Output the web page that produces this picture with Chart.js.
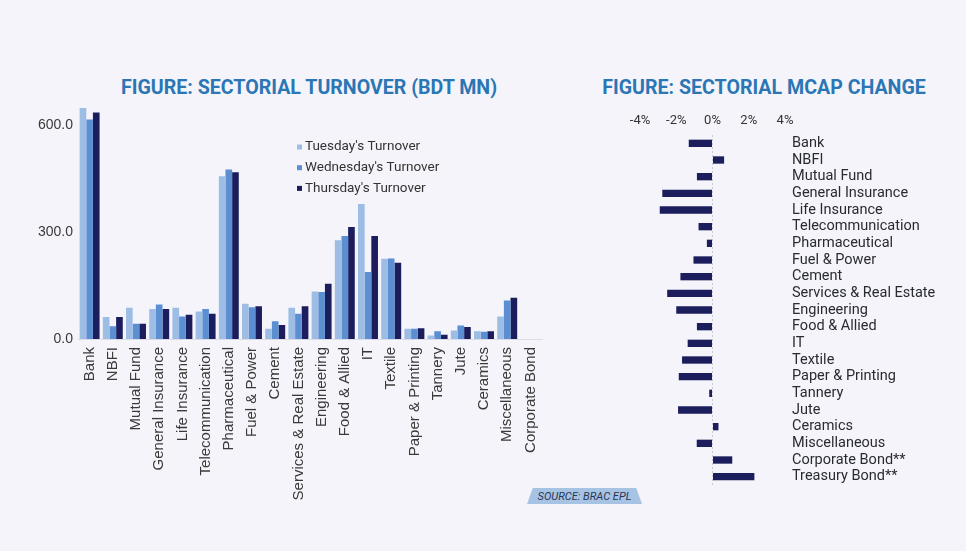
<!DOCTYPE html>
<html>
<head>
<meta charset="utf-8">
<script src="https://cdn.jsdelivr.net/npm/chart.js@4.4.1/dist/chart.umd.min.js"></script>
<style>
	html, body { margin: 0; padding: 0; background: #f4f4fa; }
	body { width: 966px; height: 551px; position: relative; overflow: hidden; }
	.title {
		position: absolute; top: 76px; font-family: Roboto, sans-serif; font-weight: 700;
		font-size: 19.6px; color: #2b76b4; white-space: nowrap; transform: translateX(-50%);
	}
	.box { position: absolute; }
	.source {
		position: absolute; left: 527px; top: 488px; width: 115px; height: 16px;
		background: #a7c3e4; clip-path: polygon(5% 0, 95% 0, 100% 100%, 0 100%);
		font-family: Roboto, sans-serif; font-style: italic; font-size: 11px; color: #2a3656;
		text-align: center; line-height: 17px;
	}
</style>
</head>
<body>
<div class="title" style="left:309px">FIGURE: SECTORIAL TURNOVER (BDT MN)</div>
<div class="title" style="left:764px">FIGURE: SECTORIAL MCAP CHANGE</div>
<div class="box" style="left:0;top:94px;width:560px;height:406px"><canvas id="turnover"></canvas></div>
<div class="box" style="left:600px;top:101px;width:366px;height:400px"><canvas id="mcap"></canvas></div>
<div class="source">SOURCE: BRAC EPL</div>
<script>
// turnover data (BDT mn)
const sectors = ['Bank', 'NBFI', 'Mutual Fund', 'General Insurance', 'Life Insurance',
	'Telecommunication', 'Pharmaceutical', 'Fuel & Power', 'Cement', 'Services & Real Estate',
	'Engineering', 'Food & Allied', 'IT', 'Textile', 'Paper & Printing', 'Tannery', 'Jute',
	'Ceramics', 'Miscellaneous', 'Corporate Bond']
const tuesday = [648, 62, 88, 84, 88, 77, 457, 99, 29, 88, 133, 277, 379, 225, 29, 10, 24, 22, 63, 0]
const wednesday = [616, 36, 43, 97, 63, 84, 476, 89, 50, 71, 132, 289, 188, 226, 29, 22, 38, 20, 108, 0]
const thursday = [636, 62, 43, 84, 68, 71, 468, 92, 39, 92, 155, 314, 289, 214, 30, 12, 34, 22, 116, 0]
const turnoverTicks = [0, 300, 600]

// mcap change (%)
const mcapSectors = ['Bank', 'NBFI', 'Mutual Fund', 'General Insurance', 'Life Insurance',
	'Telecommunication', 'Pharmaceutical', 'Fuel & Power', 'Cement', 'Services & Real Estate',
	'Engineering', 'Food & Allied', 'IT', 'Textile', 'Paper & Printing', 'Tannery', 'Jute',
	'Ceramics', 'Miscellaneous', 'Corporate Bond**', 'Treasury Bond**']
const mcapChange = [-1.31, 0.64, -0.86, -2.77, -2.91, -0.77, -0.31, -1.05, -1.77, -2.5,
	-2.0, -0.86, -1.37, -1.68, -1.86, -0.18, -1.9, 0.33, -0.87, 1.09, 2.31]
const mcapTicks = [-4, -2, 0, 2, 4]

Chart.defaults.animation = false
Chart.defaults.responsive = true
Chart.defaults.maintainAspectRatio = false

// legend drawn inside the plot, top right
const insideLegend = {
	id: 'insideLegend',
	afterDraw(chart) {
		const ctx = chart.ctx
		ctx.save()
		ctx.font = '13.5px Roboto'
		ctx.textBaseline = 'middle'
		chart.data.datasets.forEach((ds, i) => {
			const y = 53 + i * 20.7
			ctx.fillStyle = ds.backgroundColor
			ctx.fillRect(297, y - 2.5, 5, 5)
			ctx.fillStyle = '#333'
			ctx.fillText(ds.label, 305, y)
		})
		ctx.restore()
	},
}

new Chart(document.getElementById('turnover'), {
	type: 'bar',
	data: {
		labels: sectors,
		datasets: [
			{ label: "Tuesday's Turnover", data: tuesday, backgroundColor: '#9dbde4' },
			{ label: "Wednesday's Turnover", data: wednesday, backgroundColor: '#5b8fd2' },
			{ label: "Thursday's Turnover", data: thursday, backgroundColor: '#1c1d5c' },
		],
	},
	options: {
		layout: { padding: { top: 0, right: 18, left: 0, bottom: 0 } },
		datasets: { bar: { categoryPercentage: 0.86, barPercentage: 1 } },
		plugins: { legend: { display: false }, tooltip: { enabled: false } },
		scales: {
			x: {
				grid: { display: false, drawTicks: false },
				border: { display: true, color: '#dcdce4' },
				ticks: {
					autoSkip: false, minRotation: 90, maxRotation: 90, padding: 8,
					color: '#3a3a3a', font: { family: 'Liberation Sans', size: 15 },
				},
				afterFit: (s) => { s.height = 161 },
			},
			y: {
				min: 0, max: 650,
				grid: { display: false, drawTicks: false },
				border: { display: false },
				afterBuildTicks: (s) => { s.ticks = turnoverTicks.map((v) => ({ value: v })) },
				ticks: {
					padding: 5, color: '#3a3a3a', font: { family: 'Liberation Sans', size: 14 },
					callback: (v) => v.toFixed(1),
				},
				afterFit: (s) => { s.width = 78 },
			},
		},
	},
	plugins: [insideLegend],
})

new Chart(document.getElementById('mcap'), {
	type: 'bar',
	data: {
		labels: mcapSectors,
		datasets: [{ label: 'MCAP change', data: mcapChange, backgroundColor: '#1c1d5c' }],
	},
	options: {
		indexAxis: 'y',
		layout: { padding: { top: 0, right: 0, left: 40, bottom: 16 } },
		datasets: { bar: { categoryPercentage: 1, barPercentage: 0.44 } },
		plugins: { legend: { display: false }, tooltip: { enabled: false } },
		scales: {
			x: {
				position: 'top', min: -4, max: 4,
				afterBuildTicks: (s) => { s.ticks = mcapTicks.map((v) => ({ value: v })) },
				grid: {
					drawTicks: false,
					color: (c) => (c.tick && c.tick.value === 0 ? '#c9c9d3' : 'transparent'),
				},
				border: { display: false, dash: [2, 2] },
				ticks: {
					padding: 6, color: '#333', font: { family: 'Roboto', size: 13 },
					callback: (v) => v + '%',
				},
				afterFit: (s) => { s.height = 34 },
			},
			y: {
				position: 'right',
				grid: { display: false, drawTicks: false },
				border: { display: false },
				ticks: { autoSkip: false, padding: 7, color: '#2a2a35', font: { family: 'Roboto', size: 14.5 } },
				afterFit: (s) => { s.width = 181 },
			},
		},
	},
})
</script>
</body>
</html>
